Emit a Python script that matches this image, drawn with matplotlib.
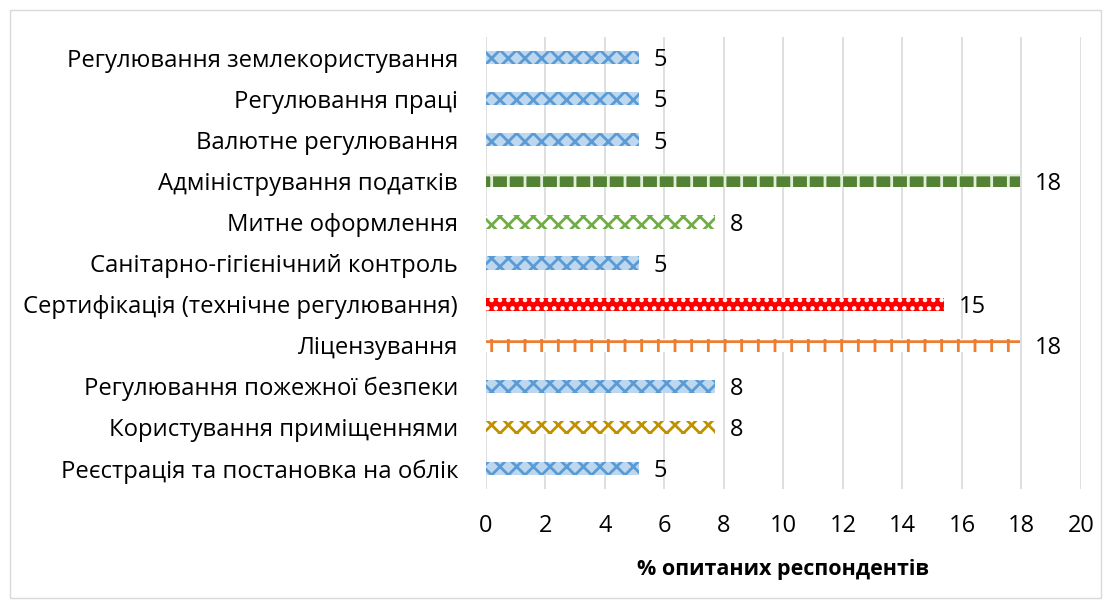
import numpy as np
import matplotlib.pyplot as plt
from matplotlib.patches import Rectangle

plt.rcParams["font.family"] = ["Open Sans", "DejaVu Sans"]

categories = [
    "Регулювання землекористування",
    "Регулювання праці",
    "Валютне регулювання",
    "Адміністрування податків",
    "Митне оформлення",
    "Санітарно-гігієнічний контроль",
    "Сертифікація (технічне регулювання)",
    "Ліцензування",
    "Регулювання пожежної безпеки",
    "Користування приміщеннями",
    "Реєстрація та постановка на облік",
]
values = [5.13, 5.13, 5.13, 17.95, 7.69, 5.13, 15.38, 17.95, 7.69, 7.69, 5.13]
labels = ["5", "5", "5", "18", "8", "5", "15", "18", "8", "8", "5"]

# (face, hatch colour, hatch)
styles = [
    ("#BDD7EE", "#5B9BD5", "xx"),
    ("#BDD7EE", "#5B9BD5", "xx"),
    ("#BDD7EE", "#5B9BD5", "xx"),
    ("#548235", "#E2EFDA", "+"),
    ("white", "#70AD47", "xx"),
    ("#BDD7EE", "#5B9BD5", "xx"),
    ("#FF0000", "white", ".."),
    ("white", "#ED7D31", "+"),
    ("#BDD7EE", "#5B9BD5", "xx"),
    ("white", "#BF9000", "xx"),
    ("#BDD7EE", "#5B9BD5", "xx"),
]

fig = plt.figure(figsize=(11.11, 6.08), dpi=100)
ax = fig.add_axes([0.4374, 0.1957, 0.5356, 0.7433])

y = np.arange(len(categories))
plt.rcParams["hatch.linewidth"] = 2.0
for yi, v, (fc, hc, h) in zip(y, values, styles):
    ax.barh(yi, v, height=0.32, color=fc, edgecolor=hc, hatch=h, linewidth=0, zorder=3)

for yi, v, lab in zip(y, values, labels):
    ax.annotate(lab, (v, yi), xytext=(11, -2), textcoords="offset points",
                va="center", ha="left", fontsize=17, color="black")

ax.set_ylim(len(categories) - 0.5, -0.5)
ax.set_yticks(y)
ax.set_yticklabels(categories, fontsize=17.2)
ax.set_xlim(0, 20)
ax.set_xticks(np.arange(0, 21, 2))
ax.tick_params(axis="x", labelsize=17, length=0, pad=18)
ax.tick_params(axis="y", length=0, pad=20)
ax.grid(axis="x", color="#D9D9D9", linewidth=1.2, zorder=0)
for s in ax.spines.values():
    s.set_visible(False)
ax.set_xlabel("% опитаних респондентів", fontsize=15.5, fontweight="bold", labelpad=15)

fig.patches.append(Rectangle((0.009, 0.016), 0.982, 0.968, transform=fig.transFigure,
                             fill=False, edgecolor="#D9D9D9", linewidth=1))

plt.savefig("out.png", dpi=100)
